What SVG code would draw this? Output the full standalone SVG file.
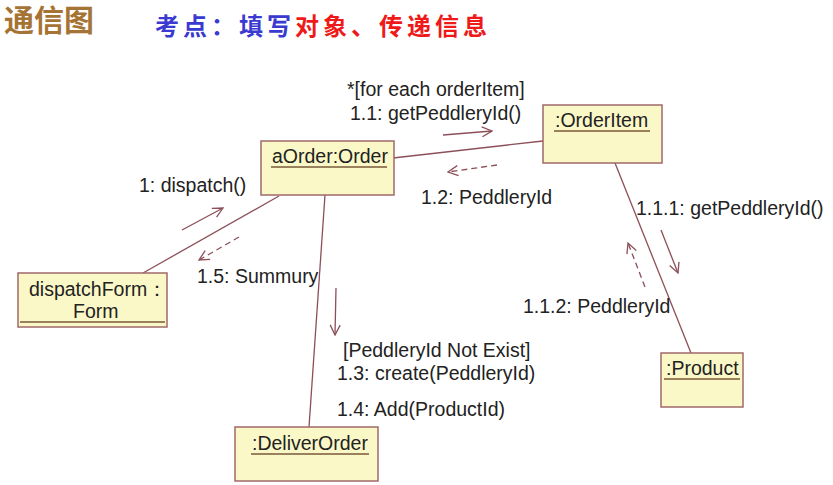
<svg xmlns="http://www.w3.org/2000/svg" width="833" height="485" viewBox="0 0 833 485">
<style>
.box{fill:#fbf8c8;stroke:#a0686a;stroke-width:1.5}
.ul{stroke:#7a5a3a;stroke-width:1.3}
.lnk{stroke:#8c4f58;stroke-width:1.3;fill:none}
.msg{stroke:#8c4f58;stroke-width:1.3;fill:none}
.dash{stroke-dasharray:6 4}
.t{font-family:"Liberation Sans",Arial,sans-serif;font-size:19.5px;fill:#222}
.title{font-family:"Noto Sans CJK SC",sans-serif;font-weight:bold;font-size:30px;fill:#a57434}
.sub{font-family:"Noto Sans CJK SC",sans-serif;font-weight:bold;font-size:24px;letter-spacing:4px}
</style>
<defs>
<marker id="oa" viewBox="0 0 12 12" refX="11" refY="6" markerWidth="12" markerHeight="12" markerUnits="userSpaceOnUse" orient="auto">
<path d="M1,1 L11,6 L1,11" fill="none" stroke="#8c4f58" stroke-width="1.3"/>
</marker>
</defs>
<rect width="833" height="485" fill="#ffffff"/>
<text class="title" x="4" y="31">通信图</text>
<text class="sub" x="155" y="35"><tspan fill="#3a3ad0">考点：填写</tspan><tspan fill="#ee1a1a">对象、传递信息</tspan></text>

<g id="connectors">
<line class="lnk" x1="393" y1="158" x2="543" y2="141"/>
<line class="lnk" x1="279" y1="196" x2="143" y2="273"/>
<line class="lnk" x1="325" y1="195" x2="309" y2="427"/>
<line class="lnk" x1="615" y1="163" x2="691" y2="353"/>
<line class="msg" x1="443" y1="135" x2="492" y2="131" marker-end="url(#oa)"/>
<line class="msg dash" x1="497" y1="165" x2="448" y2="172" marker-end="url(#oa)"/>
<line class="msg" x1="182" y1="230" x2="223" y2="208" marker-end="url(#oa)"/>
<line class="msg dash" x1="239" y1="237" x2="199" y2="260" marker-end="url(#oa)"/>
<line class="msg" x1="336" y1="288" x2="335" y2="335" marker-end="url(#oa)"/>
<line class="msg" x1="661" y1="230" x2="678" y2="273" marker-end="url(#oa)"/>
<line class="msg dash" x1="645" y1="287" x2="628" y2="243" marker-end="url(#oa)"/>
<text class="t" x="347" y="96">*[for each orderItem]</text>
<text class="t" x="350" y="120">1.1: getPeddleryId()</text>
<text class="t" x="421" y="204">1.2: PeddleryId</text>
<text class="t" x="139" y="192">1: dispatch()</text>
<text class="t" x="197" y="283">1.5: Summury</text>
<text class="t" x="636" y="215">1.1.1: getPeddleryId()</text>
<text class="t" x="523" y="313">1.1.2: PeddleryId</text>
<text class="t" x="343" y="357">[PeddleryId Not Exist]</text>
<text class="t" x="337" y="380">1.3: create(PeddleryId)</text>
<text class="t" x="337" y="416">1.4: Add(ProductId)</text>
</g>

<g id="aOrder">
<rect class="box" x="261" y="141" width="133" height="54"/>
<text class="t" x="272" y="163">aOrder:Order</text>
<line class="ul" x1="271" y1="167" x2="387" y2="167"/>
</g>
<g id="orderItem">
<rect class="box" x="543" y="105" width="119" height="58"/>
<text class="t" x="555" y="127">:OrderItem</text>
<line class="ul" x1="554" y1="131" x2="650" y2="131"/>
</g>
<g id="dispatchForm">
<rect class="box" x="18" y="273" width="149" height="54"/>
<text class="t" x="29" y="296">dispatchForm：</text>
<text class="t" x="73" y="318">Form</text>
<line class="ul" x1="20" y1="322" x2="165" y2="322"/>
</g>
<g id="deliverOrder">
<rect class="box" x="235" y="427" width="143" height="54"/>
<text class="t" x="252" y="450">:DeliverOrder</text>
<line class="ul" x1="251" y1="454" x2="369" y2="454"/>
</g>
<g id="product">
<rect class="box" x="661" y="353" width="82" height="54"/>
<text class="t" x="666" y="375">:Product</text>
<line class="ul" x1="664" y1="379" x2="740" y2="379"/>
</g>
</svg>
